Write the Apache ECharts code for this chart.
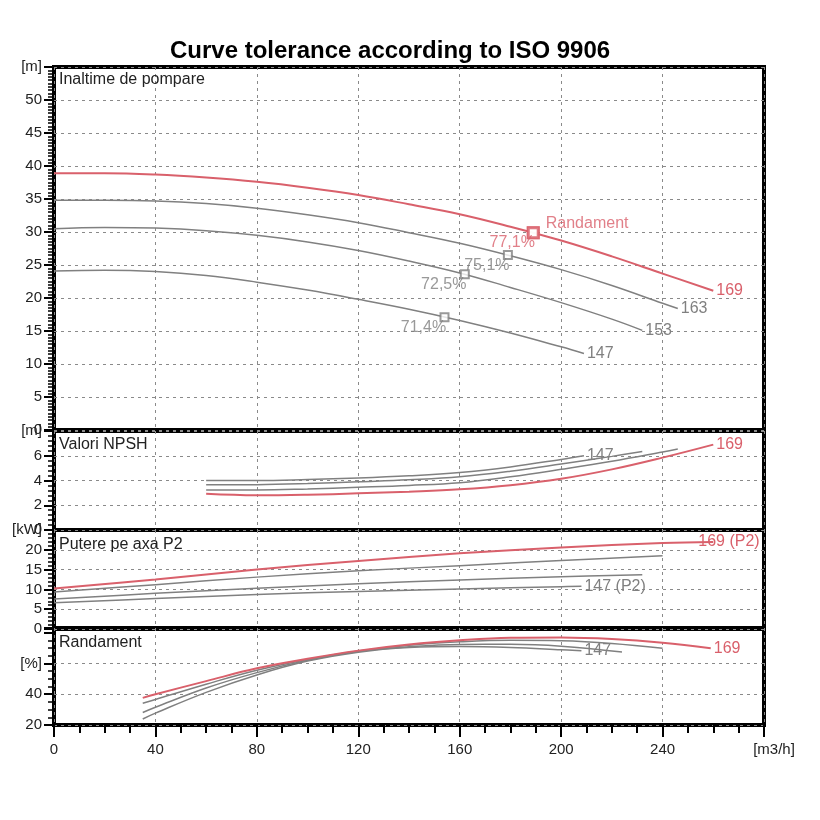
<!DOCTYPE html>
<html>
<head>
    <meta charset="utf-8">
    <title>Curve tolerance according to ISO 9906</title>
    <script src="https://cdn.jsdelivr.net/npm/echarts@6/dist/echarts.min.js"></script>
</head>
<body style="margin:0;background:#fff">
    <div id="main" style="width:820px;height:820px;"></div>
    <script type="text/javascript">
        // impeller diameters, first one is the selected (red) curve
        var diameters = ['169', '163', '153', '147'];

        // head [m3/h, m]
        var head169 = [[0,38.9],[20,38.9],[40,38.7],[60,38.25],[80,37.6],[100,36.7],[120,35.6],[140,34.2],[160,32.7],[180,30.8],[200,28.7],[220,26.3],[240,23.7],[260,21.1]];
        var head163 = [[0,34.8],[20,34.8],[40,34.7],[60,34.3],[80,33.6],[100,32.6],[120,31.4],[140,29.9],[160,28.3],[180,26.4],[200,24.3],[220,21.9],[240,19.2],[246,18.4]];
        var head153 = [[0,30.5],[20,30.7],[40,30.6],[60,30.2],[80,29.5],[100,28.5],[120,27.2],[140,25.6],[160,23.8],[180,21.6],[200,19.3],[220,16.8],[232,15.1]];
        var head147 = [[0,24.1],[20,24.2],[40,24.0],[60,23.4],[80,22.4],[100,21.2],[120,19.8],[140,18.3],[160,16.6],[180,14.7],[200,12.6],[209,11.6]];

        // NPSH [m3/h, m]
        var npsh169 = [[60,2.92],[80,2.8],[100,2.85],[120,2.96],[140,3.1],[160,3.29],[180,3.62],[200,4.14],[220,4.9],[240,5.85],[260,6.9]];
        var npsh163 = [[60,3.24],[80,3.24],[100,3.32],[120,3.45],[140,3.6],[160,3.82],[180,4.3],[200,4.9],[220,5.55],[240,6.3],[246,6.54]];
        var npsh153 = [[60,3.65],[80,3.66],[100,3.75],[120,3.9],[140,4.06],[160,4.3],[180,4.75],[200,5.33],[220,5.95],[232,6.35]];
        var npsh147 = [[60,4.0],[80,4.0],[100,4.08],[120,4.2],[140,4.38],[160,4.65],[180,5.1],[200,5.7],[209,6.0]];

        // shaft power P2 [m3/h, kW]
        var power169 = [[0,10.2],[40,12.5],[80,15.0],[120,17.2],[160,19.1],[200,20.6],[240,21.7],[260,22.0]];
        var power163 = [[0,9.35],[40,11.2],[80,13.1],[120,14.7],[160,16.0],[200,17.3],[240,18.5]];
        var power153 = [[0,7.6],[40,9.0],[80,10.3],[120,11.4],[160,12.4],[200,13.2],[232,13.7]];
        var power147 = [[0,6.6],[40,7.7],[80,8.7],[120,9.5],[160,10.1],[200,10.7],[208,10.8]];

        // efficiency [m3/h, %]
        var eff169 = [[35,37.6],[40,40],[60,48.5],[80,56.8],[100,63],[120,68.3],[140,72.3],[160,75],[180,76.6],[200,76.8],[220,75.8],[240,73.4],[259,69.8]];
        var eff163 = [[35,34.1],[40,36.6],[60,46.5],[80,55.6],[100,62.6],[120,68],[140,71.8],[160,74],[180,75],[200,74.7],[220,73],[240,69.8]];
        var eff153 = [[35,28.1],[40,31.5],[60,44],[80,54],[100,62],[120,67.8],[140,70.8],[160,72.3],[180,72.4],[200,71.2],[224,67.4]];
        var eff147 = [[35,23.9],[40,27.7],[60,41.2],[80,52.5],[100,61.5],[120,67.3],[140,70.3],[160,71],[180,70.4],[200,68.9],[208,68.2]];

        // best efficiency points on the head curves
        var bepQ = [189, 179, 162, 154];
        var bepH = [29.9, 26.5, 23.6, 17.1];
        var bepEff = ['77,1%', '75,1%', '72,5%', '71,4%'];

        var panelTitles = ['Inaltime de pompare', 'Valori NPSH', 'Putere pe axa P2', 'Randament'];
        var xTicks = [0, 40, 80, 120, 160, 200, 240, 280];

        var FONT = '"Liberation Sans", Arial, sans-serif';
        var red = '#d9606b', grey = '#808080', dash = '#8a8a8a';

        var myChart = echarts.init(document.getElementById('main'));

        var gridPos = [
            {top: 67, height: 363},
            {top: 431, height: 99},
            {top: 530, height: 99},
            {top: 628, height: 97}
        ];
        var yRange = [
            {min: 0, max: 55, interval: 5, minor: 10, unit: {55: '[m]'}},
            {min: 0, max: 8, interval: 2, minor: 5, unit: {8: '[m]'}},
            {min: 0, max: 25, interval: 5, minor: 5, unit: {25: '[kW]'}},
            {min: 20, max: 83, interval: 20, minor: 4, unit: {60: '[%]', 80: '', 83: ''}}
        ];

        function curve(data, panel, color, label, offset) {
            return {
                type: 'line',
                data: data,
                xAxisIndex: panel,
                yAxisIndex: panel,
                smooth: 0.4,
                symbol: 'none',
                silent: true,
                z: color === red ? 4 : 3,
                lineStyle: {color: color, width: color === red ? 2 : 1.5},
                endLabel: {
                    show: !!label,
                    formatter: label || '',
                    color: color,
                    fontSize: 16,
                    fontFamily: FONT,
                    distance: 3,
                    offset: offset || [0, 0]
                }
            };
        }

        var panels = [
            [head169, head163, head153, head147],
            [npsh169, npsh163, npsh153, npsh147],
            [power169, power163, power153, power147],
            [eff169, eff163, eff153, eff147]
        ];

        var series = [];
        panels.forEach(function (curves, p) {
            curves.forEach(function (data, i) {
                var label = null, offset = null;
                if (p === 0) label = diameters[i];
                else if (i === 0 || i === 3) label = diameters[i];
                if (p === 2 && label) label += ' (P2)';
                if (p === 2 && i === 0) offset = [-18, 0];
                series.push(curve(data, p, i === 0 ? red : grey, label, offset));
            });
        });

        series.push({
            type: 'scatter',
            xAxisIndex: 0,
            yAxisIndex: 0,
            symbol: 'rect',
            z: 6,
            silent: true,
            data: bepQ.map(function (q, i) {
                return {
                    value: [q, bepH[i]],
                    symbolSize: i === 0 ? 10 : 8,
                    itemStyle: {color: '#fff', borderColor: i === 0 ? red : grey, borderWidth: i === 0 ? 3 : 2},
                    label: {show: true, formatter: bepEff[i], color: i === 0 ? red : grey}
                };
            }),
            label: {position: 'inside', offset: [-21, 10], fontSize: 16, fontFamily: FONT}
        });
        series.push({
            type: 'scatter',
            xAxisIndex: 0,
            yAxisIndex: 0,
            symbol: 'rect',
            symbolSize: 10,
            z: 6,
            silent: true,
            itemStyle: {color: '#fff', borderColor: red, borderWidth: 3},
            data: [[bepQ[0], bepH[0]]],
            label: {show: true, formatter: 'Randament', position: 'right', distance: 6, offset: [0, -9],
                color: red, fontSize: 16, fontFamily: FONT}
        });

        var titles = [{
            text: 'Curve tolerance according to ISO 9906',
            left: 170, top: 39, padding: 0,
            textStyle: {fontSize: 24, fontWeight: 'bold', color: '#000', fontFamily: FONT}
        }];
        var titleTops = [72, 437, 537, 635];
        panelTitles.forEach(function (t, i) {
            titles.push({
                text: t, left: 59, top: titleTops[i], padding: 0,
                textStyle: {fontSize: 16, fontWeight: 'normal', color: '#222', fontFamily: FONT}
            });
        });

        var option = {
            backgroundColor: '#fff',
            animation: false,
            title: titles,
            grid: gridPos.map(function (g) {
                return {left: 54, right: 56, top: g.top, height: g.height, show: true,
                    borderColor: '#000', borderWidth: 4, backgroundColor: 'transparent'};
            }),
            xAxis: gridPos.map(function (g, i) {
                var last = i === 3;
                return {
                    type: 'value', gridIndex: i, min: xTicks[0], max: xTicks[xTicks.length - 1], interval: 40,
                    axisLine: {show: false},
                    axisTick: {show: last, length: 12, lineStyle: {color: '#000', width: 2}},
                    minorTick: {show: last, splitNumber: 4, length: 8, lineStyle: {color: '#000', width: 2}},
                    axisLabel: {
                        show: last, margin: 17, fontSize: 15, color: '#222', fontFamily: FONT,
                        formatter: function (v) { return v === 280 ? '{u|[m3/h]}' : String(v); },
                        rich: {u: {padding: [0, 0, 0, 20], fontSize: 15, color: '#222', fontFamily: FONT}}
                    },
                    splitLine: {show: true, lineStyle: {color: dash, type: [3, 4], width: 1}}
                };
            }),
            yAxis: yRange.map(function (r, i) {
                return {
                    type: 'value', gridIndex: i, min: r.min, max: r.max, interval: r.interval,
                    axisLine: {show: false},
                    axisTick: {show: true, length: 10, lineStyle: {color: '#000', width: 2}},
                    minorTick: {show: true, splitNumber: r.minor, length: 6, lineStyle: {color: '#000', width: 1.5}},
                    axisLabel: {
                        margin: 12, fontSize: 15, color: '#222', fontFamily: FONT,
                        showMinLabel: true, showMaxLabel: true,
                        formatter: function (v) { return r.unit[v] !== undefined ? r.unit[v] : String(v); }
                    },
                    splitLine: {show: true, lineStyle: {
                        color: i === 3 ? [dash, dash, dash, 'rgba(0,0,0,0)', 'rgba(0,0,0,0)'] : dash,
                        type: [3, 4], width: 1}}
                };
            }),
            series: series
        };

        myChart.setOption(option);
    </script>
</body>
</html>
